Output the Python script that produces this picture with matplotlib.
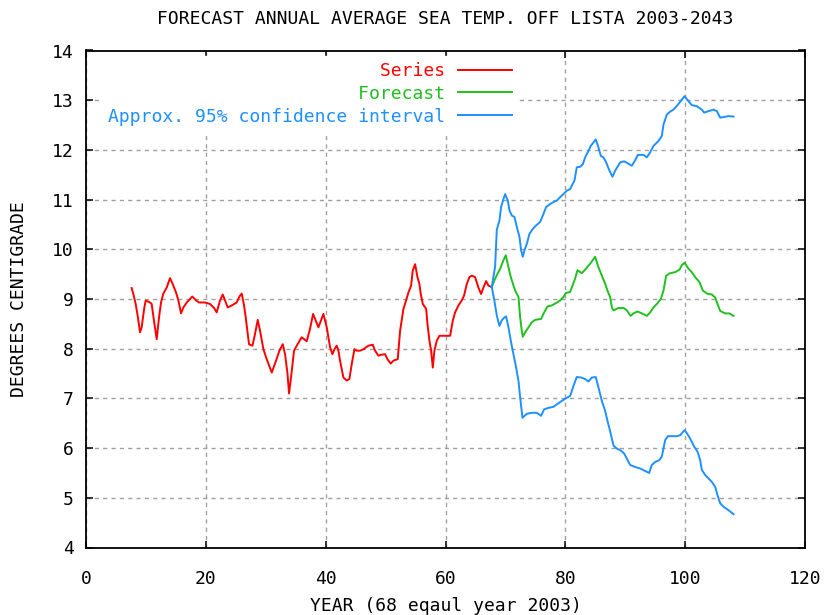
import matplotlib
matplotlib.use("Agg")
import matplotlib.pyplot as plt

plt.rcParams['font.family'] = ['DejaVu Sans Mono']

# ---- data ----
series_x = [7.62, 7.90, 8.29, 8.63, 9.01, 9.29, 9.74, 9.96, 10.68, 10.96, 11.35, 11.80, 12.19, 12.52,
            12.91, 13.47, 14.02, 14.47, 15.03, 15.42, 15.86, 16.25, 16.81, 17.75, 18.37, 18.87, 19.87,
            20.70, 21.37, 21.81, 22.37, 22.82, 23.21, 23.65, 24.32, 25.15, 25.60, 25.99, 26.38, 26.66,
            26.93, 27.21, 27.77, 28.10, 28.66, 29.05, 29.61, 30.16, 31.00, 31.72, 32.28, 32.84, 33.22,
            33.61, 33.89, 34.28, 34.72, 35.17, 36.00, 36.84, 37.39, 37.90, 38.79, 39.62, 40.18, 40.73,
            41.12, 41.46, 41.85, 42.13, 42.40, 42.96, 43.52, 43.96, 44.35, 44.80, 45.19, 45.74, 46.30,
            47.13, 47.86, 48.25, 48.80, 49.36, 49.92, 50.31, 50.86, 51.31, 52.03, 52.42, 52.98, 53.42,
            53.81, 54.26, 54.53, 54.93, 55.32, 55.65, 55.87, 56.21, 56.77, 56.99, 57.32, 57.60, 57.88,
            58.15, 58.54, 58.99, 59.65, 60.77, 61.21, 61.60, 62.16, 62.71, 63.10, 63.55, 63.99, 64.38,
            64.94, 65.49, 65.94, 66.33, 66.77, 67.16, 67.72]
series_y = [9.22, 9.10, 8.90, 8.66, 8.33, 8.43, 8.83, 8.97, 8.93, 8.90, 8.56, 8.19, 8.63, 8.93,
            9.11, 9.23, 9.42, 9.30, 9.13, 8.97, 8.71, 8.83, 8.93, 9.05, 8.97, 8.93, 8.93,
            8.90, 8.82, 8.73, 8.97, 9.09, 8.97, 8.83, 8.87, 8.93, 9.05, 9.11, 8.87, 8.63,
            8.36, 8.09, 8.06, 8.23, 8.58, 8.36, 7.99, 7.79, 7.52, 7.76, 7.96, 8.09, 7.89,
            7.52, 7.10, 7.49, 7.96, 8.06, 8.23, 8.15, 8.40, 8.70, 8.43, 8.70, 8.43, 8.03,
            7.89, 7.99, 8.06, 7.96, 7.76, 7.42, 7.36, 7.39, 7.69, 7.99, 7.96, 7.96, 7.99,
            8.06, 8.08, 7.96, 7.86, 7.88, 7.89, 7.79, 7.70, 7.76, 7.79, 8.36, 8.80, 8.97,
            9.13, 9.27, 9.57, 9.70, 9.44, 9.30, 9.10, 8.90, 8.80, 8.50, 8.16, 7.96, 7.62,
            7.96, 8.16, 8.26, 8.26, 8.26, 8.56, 8.73, 8.87, 8.97, 9.07, 9.30, 9.44, 9.47,
            9.44, 9.23, 9.10, 9.23, 9.36, 9.27, 9.24]

forecast_x = [67.72, 68.28, 69.12, 69.67, 70.06, 70.51, 70.90, 71.62, 72.18, 72.46, 72.73, 72.90,
              73.29, 73.85, 74.40, 74.96, 75.96, 76.46, 77.02, 77.74, 78.46, 79.13, 79.69, 80.08,
              80.80, 81.63, 82.02, 82.75, 83.30, 84.14, 84.97, 85.53, 86.09, 86.64, 87.03, 87.48,
              87.76, 88.04, 88.87, 89.71, 90.27, 90.90, 91.37, 92.04, 92.77, 93.60, 94.16, 94.71,
              95.27, 95.94, 96.38, 96.83, 97.50, 98.33, 99.06, 99.44, 99.89, 100.56, 101.11, 101.67,
              102.39, 102.95, 103.62, 104.45, 105.01, 105.40, 105.84, 106.68, 107.40, 108.07]
forecast_y = [9.24, 9.41, 9.61, 9.78, 9.88, 9.64, 9.44, 9.17, 9.04, 8.63, 8.36, 8.24,
              8.33, 8.43, 8.53, 8.58, 8.60, 8.73, 8.85, 8.87, 8.92, 8.97, 9.04, 9.12,
              9.14, 9.41, 9.58, 9.52, 9.59, 9.71, 9.85, 9.64, 9.47, 9.31, 9.17, 9.04,
              8.83, 8.77, 8.82, 8.82, 8.77, 8.66, 8.71, 8.75, 8.71, 8.66, 8.73, 8.83,
              8.90, 9.00, 9.17, 9.47, 9.52, 9.54, 9.59, 9.68, 9.73, 9.61, 9.54, 9.44,
              9.34, 9.17, 9.11, 9.09, 9.03, 8.90, 8.76, 8.71, 8.71, 8.66]

upper_x = [67.72, 68.28, 68.56, 69.00, 69.28, 69.67, 69.95, 70.40, 70.68, 71.07, 71.51, 71.90,
           72.35, 72.62, 72.90, 73.18, 73.57, 74.01, 74.57, 75.12, 75.79, 76.24, 76.80, 77.46,
           78.02, 78.58, 79.13, 79.69, 80.24, 80.80, 81.08, 81.52, 81.91, 82.47, 82.92, 83.30,
           83.86, 84.25, 84.69, 85.08, 85.53, 85.92, 86.36, 86.81, 87.37, 87.87, 88.31, 89.15,
           89.82, 90.43, 91.10, 91.65, 92.10, 93.04, 93.60, 94.16, 94.71, 95.55, 96.10, 96.38,
           96.94, 97.50, 98.05, 98.72, 99.44, 99.89, 100.56, 101.11, 101.95, 102.78, 103.17,
           103.90, 104.73, 105.29, 105.84, 106.40, 107.24, 108.07]
upper_y = [9.24, 9.65, 10.39, 10.58, 10.85, 11.01, 11.11, 10.98, 10.78, 10.68, 10.65, 10.45,
           10.25, 9.98, 9.85, 9.98, 10.11, 10.31, 10.41, 10.48, 10.55, 10.68, 10.85, 10.91,
           10.95, 10.98, 11.05, 11.11, 11.18, 11.21, 11.28, 11.38, 11.65, 11.66, 11.71, 11.85,
           11.98, 12.08, 12.15, 12.21, 12.05, 11.88, 11.85, 11.75, 11.58, 11.46, 11.58, 11.75,
           11.77, 11.73, 11.68, 11.79, 11.90, 11.90, 11.85, 11.95, 12.08, 12.18, 12.28, 12.51,
           12.71, 12.77, 12.81, 12.90, 13.01, 13.08, 12.98, 12.90, 12.88, 12.81, 12.75,
           12.78, 12.81, 12.78, 12.65, 12.66, 12.68, 12.67]

lower_x = [67.72, 68.11, 68.56, 69.00, 69.39, 69.84, 70.12, 70.51, 70.90, 71.34, 71.79, 72.18,
           72.46, 72.84, 73.57, 74.40, 75.24, 75.96, 76.46, 77.19, 78.02, 78.58, 79.41, 80.08,
           80.80, 81.36, 81.91, 82.64, 83.30, 83.86, 84.42, 85.08, 85.53, 86.09, 86.64, 87.03,
           87.48, 88.04, 88.60, 89.26, 89.82, 90.26, 90.82, 91.65, 92.49, 93.32, 93.99, 94.43,
           94.99, 95.71, 96.10, 96.38, 96.66, 97.11, 97.77, 98.61, 99.17, 99.89, 100.28, 100.84,
           101.50, 102.06, 102.50, 102.78, 103.34, 103.90, 104.45, 105.01, 105.40, 105.84,
           106.40, 107.24, 108.07]
lower_y = [9.24, 9.00, 8.67, 8.46, 8.57, 8.63, 8.65, 8.43, 8.16, 7.89, 7.62, 7.35,
           7.02, 6.61, 6.69, 6.71, 6.71, 6.65, 6.78, 6.81, 6.83, 6.88, 6.95, 7.00,
           7.05, 7.25, 7.43, 7.42, 7.39, 7.34, 7.42, 7.43, 7.22, 6.95, 6.75, 6.55,
           6.34, 6.05, 5.99, 5.95, 5.89, 5.79, 5.66, 5.62, 5.59, 5.54, 5.50, 5.66,
           5.72, 5.76, 5.83, 5.99, 6.16, 6.24, 6.24, 6.24, 6.26, 6.36, 6.30, 6.19,
           6.03, 5.93, 5.76, 5.56, 5.46, 5.39, 5.32, 5.22, 5.05, 4.89,
           4.82, 4.75, 4.67]

x_ticks = [0, 20, 40, 60, 80, 100, 120]
y_ticks = [4, 5, 6, 7, 8, 9, 10, 11, 12, 13, 14]
labels = ["Series", "Forecast", "Approx. 95% confidence interval"]

title = "FORECAST ANNUAL AVERAGE SEA TEMP. OFF LISTA 2003-2043"
xlabel = "YEAR (68 eqaul year 2003)"
ylabel = "DEGREES CENTIGRADE"

RED = "#ff0000"
GREEN = "#1fc01f"
BLUE = "#1e90ff"

fig = plt.figure(figsize=(8.25, 6.15), dpi=100)
ax = fig.add_axes([86 / 825, 1 - 547.5 / 615, 719 / 825, 497 / 615])

lw = 1.4
l1, = ax.plot(series_x, series_y, color=RED, lw=lw)
l2, = ax.plot(forecast_x, forecast_y, color=GREEN, lw=lw)
l3, = ax.plot(upper_x, upper_y, color=BLUE, lw=lw)
ax.plot(lower_x, lower_y, color=BLUE, lw=lw)

ax.set_xlim(0, 120)
ax.set_ylim(4, 14)
ax.set_xticks(x_ticks)
ax.set_yticks(y_ticks)
ax.grid(True, color="#a0a0a0", linestyle=(0, (3, 3)), linewidth=1.0)
ax.set_axisbelow(True)
ax.tick_params(direction="in", length=5, width=1.1, top=True, right=True,
               labelsize=13, colors="black")
ax.tick_params(axis="x", pad=16)
ax.tick_params(axis="y", pad=9)
for s in ax.spines.values():
    s.set_linewidth(1.3)

ax.set_title(title, fontsize=13, pad=19)
ax.set_xlabel(xlabel, fontsize=13, labelpad=6.5)
ax.set_ylabel(ylabel, fontsize=13, labelpad=17)

n = max(len(t) for t in labels)
padded = [t.rjust(n) for t in labels]
leg = ax.legend([l1, l2, l3], padded, loc="upper right",
                bbox_to_anchor=(0.600, 0.988), fontsize=13,
                markerfirst=False, handlelength=3.0, handletextpad=0.7,
                labelspacing=0.27, borderpad=0.3, borderaxespad=0.0,
                frameon=True, fancybox=False, framealpha=1.0,
                edgecolor="white", facecolor="white", labelcolor="linecolor")

fig.savefig("out.png", dpi=100)
